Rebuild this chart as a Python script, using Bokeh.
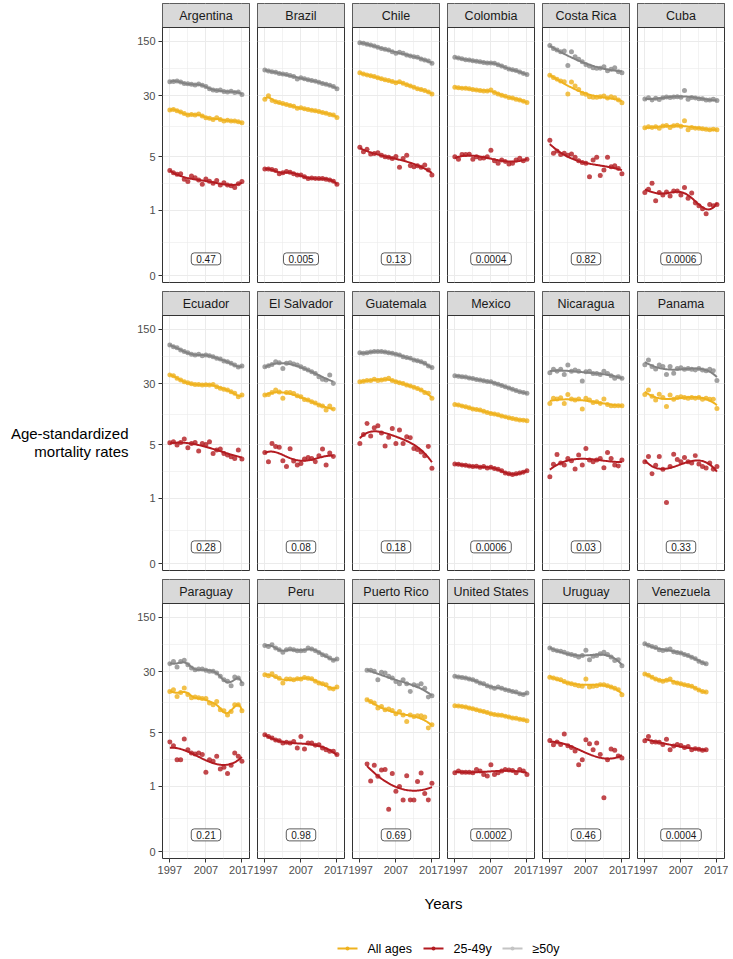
import numpy as np
from bokeh.plotting import figure
from bokeh.models import Range1d, FixedTicker, Span, Label
from bokeh.layouts import row, column
from bokeh.embed import file_html
from bokeh.resources import INLINE
from bokeh.core.properties import value

FONT = "Liberation Sans"

# ---------------- data ----------------
countries = ["Argentina", "Brazil", "Chile", "Colombia", "Costa Rica", "Cuba",
             "Ecuador", "El Salvador", "Guatemala", "Mexico", "Nicaragua", "Panama",
             "Paraguay", "Peru", "Puerto Rico", "United States", "Uruguay", "Venezuela"]
p_values = ["0.47", "0.005", "0.13", "0.0004", "0.82", "0.0006",
            "0.28", "0.08", "0.18", "0.0006", "0.03", "0.33",
            "0.21", "0.98", "0.69", "0.0002", "0.46", "0.0004"]
first_year = [1997, 1997, 1997, 1997, 1997, 1997,
              1997, 1997, 1997, 1997, 1997, 1997,
              1997, 1997, 1999, 1997, 1997, 1997]
series_names = ["All ages", "25-49y", "\u226550y"]
y_tick_values = [0, 1, 5, 30, 150]
x_tick_years = [1997, 2007, 2017]

arg_all = [19.7, 20.0, 19.3, 18.6, 17.8, 17.0, 17.3, 17.0, 17.5, 16.5, 15.7, 15.4, 14.9, 15.7, 14.9, 14.3, 14.6, 14.2, 14.3, 13.9, 13.5]
arg_young = [3.3, 3.1, 2.95, 3.0, 2.55, 2.38, 2.8, 2.67, 2.5, 2.2, 2.57, 2.4, 2.27, 2.45, 2.15, 2.3, 2.15, 2.1, 2.0, 2.24, 2.38]
arg_old = [45.4, 45.8, 46.3, 44.9, 43.2, 42.8, 42.0, 41.2, 42.4, 40.8, 39.3, 37.0, 35.6, 34.9, 35.6, 33.9, 33.5, 34.3, 32.9, 33.5, 31.2]

bra_all = [27, 30, 26, 25.2, 24.5, 23.8, 23.2, 22.5, 22, 20.8, 21, 20.5, 20, 19.5, 19.3, 18.8, 18.3, 17.9, 17.3, 17.0, 15.8]
bra_young = [3.45, 3.45, 3.4, 3.3, 3.0, 3.1, 3.2, 3.15, 3.0, 2.9, 2.9, 2.75, 2.6, 2.65, 2.6, 2.6, 2.6, 2.55, 2.5, 2.4, 2.2]
bra_old = [64, 62, 61, 60, 58, 57, 56, 54.5, 53, 49, 51, 49.5, 48, 47, 46, 44.5, 43, 42, 41, 39.5, 37]

chl_all = [59, 57, 55.5, 54, 53, 51, 49.5, 48, 47, 45.5, 44, 45.2, 43.5, 41.5, 40, 38.5, 37, 36, 35, 33.5, 31.5]
chl_young = [6.55, 5.76, 6.2, 5.37, 5.45, 5.6, 5.2, 4.97, 4.9, 4.73, 5.0, 3.63, 4.73, 5.2, 3.8, 3.7, 3.8, 3.63, 3.88, 3.35, 2.9]
chl_old = [143.4, 140.6, 136.5, 134, 130, 125, 121, 118, 115.5, 110, 104.7, 108, 104.7, 99.7, 96.7, 94.9, 93, 88.6, 86, 83.5, 78]

col_all = [38.5, 38, 37.5, 37.5, 37, 36, 35.5, 35, 34.5, 34.5, 35.5, 33, 31.5, 30.5, 29.5, 28.5, 28, 27, 26.5, 25.5, 24.5]
col_young = [4.95, 4.6, 5.3, 5.3, 5.35, 4.6, 4.95, 4.75, 4.8, 4.95, 6.0, 4.4, 4.1, 4.5, 4.3, 4.0, 4.1, 4.5, 4.75, 4.4, 4.6]
col_old = [93, 91, 89, 87, 86, 84, 83, 82, 80, 79, 79, 78, 75, 72, 69, 66, 64.5, 63, 60.5, 58, 56]

cri_all = [55, 51.5, 48.7, 46.3, 45.4, 31.5, 45, 40, 36.2, 32.2, 31.3, 29.2, 28.6, 28.6, 29.2, 29.7, 28, 29.2, 28.3, 26.4, 24.4]
cri_young = [8.1, 5.5, 5.9, 5.3, 5.5, 5.2, 5.4, 4.9, 4.4, 4.2, 4.1, 2.75, 4.5, 4.9, 2.85, 3.35, 4.9, 3.7, 3.8, 3.5, 3.0]
cri_old = [131.6, 121, 115.5, 110, 112, 73, 110, 95, 88, 82, 75.5, 72, 68.6, 67.3, 67.3, 70.7, 62.8, 65.6, 68.6, 61, 59.3]

cub_all = [11.7, 12, 11.8, 12, 11.5, 12.3, 12.5, 11.8, 12.4, 12.6, 12.2, 14.4, 11, 11.8, 11.5, 11.5, 11.3, 11.2, 11, 11.2, 11]
cub_young = [1.72, 1.9, 2.26, 1.34, 1.72, 1.6, 1.75, 1.55, 1.8, 1.8, 1.6, 2.0, 1.45, 1.7, 1.25, 1.15, 1.05, 0.9, 1.2, 1.15, 1.2]
cub_old = [27.3, 28.3, 26.4, 27.8, 26.9, 28.3, 29, 28.5, 29, 29.2, 28.8, 34.9, 27, 28.5, 28, 27.5, 27.5, 26.5, 26.5, 27, 26]

ecu_all = [38.8, 38, 35.2, 33.5, 31.8, 30.9, 30, 29.4, 29.4, 28.9, 29.2, 28.9, 29.4, 27.5, 26.2, 25.6, 24.9, 23.7, 22.6, 20.5, 21.5]
ecu_young = [5.27, 5.42, 4.92, 5.32, 5.87, 4.54, 5.16, 5.32, 4.12, 5.16, 5.0, 5.42, 3.84, 4.24, 4.37, 3.84, 3.66, 3.48, 3.31, 4.24, 3.25]
ecu_old = [94, 89.5, 86.6, 81, 77.6, 75, 71.5, 70, 71.5, 68.6, 70, 68.6, 66.6, 63.5, 62, 58.6, 57.5, 54.7, 52, 49, 50.8]

slv_all = [21.6, 21.9, 23.2, 24.9, 23.6, 19.5, 23.2, 23.2, 22.5, 21.1, 20.5, 18.9, 18.6, 17.7, 17.0, 16.0, 15.6, 13.8, 15.6, 14.2]
slv_young = [3.96, 3.0, 5.16, 4.7, 4.6, 3.1, 2.6, 4.4, 3.07, 2.73, 2.85, 3.25, 3.4, 3.3, 3.0, 3.6, 4.37, 2.73, 3.9, 3.5]
slv_old = [49.5, 51, 53, 57.5, 55.6, 47, 54.7, 55.6, 53.5, 52, 49.5, 47, 45, 42.8, 40.7, 37, 34.2, 33.5, 38.8, 30.3]

gtm_all = [31.8, 32.4, 33, 33, 34.2, 33, 33.5, 34.2, 35.2, 33, 31.8, 30.9, 30.3, 29, 28, 27, 26, 24.9, 23.2, 22.6, 19.5]
gtm_young = [5.16, 6.7, 9.3, 6.45, 8.2, 8.7, 7.0, 4.8, 6.2, 8.0, 5.16, 7.65, 5.16, 6.3, 6.1, 4.45, 4.3, 4.0, 3.6, 4.7, 2.47]
gtm_old = [75, 73.5, 75, 76.3, 77.6, 77.6, 77.6, 76.3, 75, 73.5, 71.5, 70, 66.6, 65, 63.5, 60.3, 58.9, 57.5, 54.7, 50.8, 48.3]

mex_all = [16.3, 16, 15.6, 15.2, 14.8, 14.3, 14, 13.8, 13.3, 12.9, 12.5, 12.3, 12, 11.6, 11.3, 11, 10.8, 10.5, 10.3, 10.2, 10.1]
mex_young = [2.8, 2.78, 2.72, 2.7, 2.65, 2.6, 2.62, 2.55, 2.6, 2.5, 2.55, 2.45, 2.4, 2.3, 2.15, 2.1, 2.05, 2.1, 2.15, 2.2, 2.3]
mex_old = [38, 37.5, 37, 36.5, 35.5, 35, 34, 33.4, 32.8, 32, 31.8, 30.5, 29.5, 28.5, 27.5, 26.5, 25.5, 24.5, 23.7, 23.2, 22.6]

nic_all = [16.8, 19.5, 19.1, 19.8, 16.8, 21.9, 19.1, 18.6, 19.1, 14.2, 19.5, 18.6, 17.3, 17.7, 16.8, 19.1, 16.3, 15.7, 15.7, 15.7, 15.7]
nic_young = [1.93, 2.78, 3.73, 2.9, 2.73, 3.31, 3.1, 2.42, 3.66, 2.73, 4.45, 3.16, 3.01, 3.16, 3.3, 2.52, 3.96, 3.3, 2.73, 2.65, 3.16]
nic_old = [41.5, 46, 43.5, 46, 39.5, 52, 43.5, 45, 43.5, 32.6, 42.8, 43.5, 40.7, 40.7, 39.5, 43.5, 40.7, 38, 35.2, 36.8, 35.2]

pan_all = [21.9, 24.9, 20.7, 18.6, 22, 20, 15.3, 21.5, 19, 20, 20.5, 20, 19.5, 20, 19.5, 20, 19, 19.5, 19, 19, 14.5]
pan_young = [3.0, 3.5, 2.1, 2.7, 3.5, 2.4, 0.88, 2.6, 3.75, 3.2, 3.0, 3.4, 3.0, 2.9, 3.6, 2.8, 2.6, 2.5, 2.9, 2.4, 2.6]
pan_old = [52.5, 60.3, 50, 46.5, 52, 50, 39.5, 50, 41, 47, 48, 46, 47, 46, 45, 47, 45, 44, 46, 44, 33]

pry_all = [16.8, 17.7, 14.5, 16.3, 18.6, 15.3, 13.9, 14.2, 13.9, 13.6, 13.6, 11.9, 11.3, 12.5, 9.8, 9.5, 8.4, 9.3, 11.3, 11.3, 9.5]
pry_young = [3.77, 3.39, 2.24, 2.24, 4.12, 3.01, 2.73, 2.65, 2.73, 2.6, 1.54, 2.24, 2.13, 2.47, 1.7, 1.79, 1.48, 1.9, 2.73, 2.47, 2.13]
pry_old = [38.1, 40.7, 34.5, 40.7, 42, 36.9, 33.5, 31.9, 32.5, 32.5, 31.3, 30.4, 30.4, 28.9, 26.2, 23.7, 22.6, 19.9, 25.7, 25, 21.1]

per_all = [27.5, 26.6, 28.3, 26, 24.7, 21.5, 24.2, 24.2, 23.7, 24.4, 24.2, 25.4, 24.7, 24.4, 22.6, 21.5, 21, 20.5, 18.5, 18.0, 19.1]
per_young = [4.68, 4.45, 4.24, 4.0, 3.92, 3.66, 3.75, 3.66, 3.84, 3.16, 4.45, 3.07, 3.66, 3.66, 3.42, 3.49, 3.16, 3.01, 2.87, 2.87, 2.6]
per_old = [65, 63, 66.5, 60.3, 57.5, 53.3, 57.5, 58.5, 57.5, 55.8, 55.8, 56, 60.3, 58.5, 55.8, 53, 49.5, 48, 45, 42, 43.7]

pri_all = [13.1, 12.5, 11.9, 10.3, 10.8, 9.8, 10, 9.6, 8.7, 9.3, 8.4, 6.9, 8.4, 8.0, 8.2, 8.2, 7.9, 5.7, 6.3]
pri_young = [1.96, 1.18, 1.9, 1.36, 1.64, 1.67, 0.48, 1.48, 0.86, 1.0, 0.65, 1.38, 0.65, 0.65, 1.16, 1.5, 0.8, 0.65, 1.1]
pri_old = [31.3, 31.3, 30.4, 23.7, 29.5, 29, 26.2, 25, 22.5, 21.1, 23.7, 21.1, 16.8, 20.5, 19.9, 21.1, 18.5, 14.2, 14.8]

usa_all = [11.0, 10.9, 10.8, 10.6, 10.3, 10.1, 9.8, 9.5, 9.3, 9.0, 8.7, 8.5, 8.4, 8.3, 8.1, 7.9, 7.7, 7.6, 7.4, 7.3, 7.1]
usa_young = [1.51, 1.59, 1.54, 1.54, 1.54, 1.51, 1.67, 1.59, 1.44, 1.37, 1.93, 1.44, 1.51, 1.59, 1.67, 1.65, 1.62, 1.51, 1.67, 1.59, 1.44]
usa_old = [26.2, 25.7, 25.4, 25, 24.2, 23.7, 22.6, 21.5, 21.1, 19.9, 19.1, 18.5, 19.1, 18.5, 17.7, 17.3, 16.8, 16.5, 15.7, 15.3, 16]

ury_all = [25.6, 24.9, 24.2, 23.7, 22.5, 21.5, 21.1, 20.5, 19.9, 19.5, 24.2, 19.1, 19.5, 19.9, 20.5, 20.5, 19.9, 19.1, 18.5, 17.6, 15.2]
ury_young = [3.96, 3.48, 3.77, 3.5, 4.77, 3.38, 3.2, 2.9, 1.93, 2.24, 4.04, 3.59, 3.0, 3.66, 2.6, 0.70, 2.24, 3.07, 2.95, 2.5, 2.35]
ury_old = [60.3, 57.5, 55.8, 54.7, 53.3, 51.1, 49.7, 48.3, 46.4, 48.3, 56.6, 42.6, 47.3, 48.3, 51.1, 53.3, 49.7, 46.4, 41.9, 42.6, 35.9]

ven_all = [28, 27, 25.5, 24.2, 23.3, 22.7, 23.3, 24.2, 22, 21.5, 21, 20.5, 20, 19.5, 18.5, 17.5, 16.8, 16.5]
ven_young = [3.92, 4.45, 3.77, 3.77, 3.74, 3.5, 4.1, 3.0, 3.35, 3.5, 3.4, 3.2, 3.3, 3.0, 3.1, 3.05, 2.95, 3.0]
ven_old = [68.5, 65.5, 63, 61.5, 57.5, 56, 57.5, 58.5, 54, 53, 52, 50, 48.5, 46, 44, 41, 39, 38]

country_series = [
    (arg_all, arg_young, arg_old), (bra_all, bra_young, bra_old), (chl_all, chl_young, chl_old),
    (col_all, col_young, col_old), (cri_all, cri_young, cri_old), (cub_all, cub_young, cub_old),
    (ecu_all, ecu_young, ecu_old), (slv_all, slv_young, slv_old), (gtm_all, gtm_young, gtm_old),
    (mex_all, mex_young, mex_old), (nic_all, nic_young, nic_old), (pan_all, pan_young, pan_old),
    (pry_all, pry_young, pry_old), (per_all, per_young, per_old), (pri_all, pri_young, pri_old),
    (usa_all, usa_young, usa_old), (ury_all, ury_young, ury_old), (ven_all, ven_young, ven_old),
]

# ---------------- style ----------------
LINE_COLORS = ["#EFB21E", "#B31B21", "#828282"]
POINT_COLORS = ["#EFB21E", "#B31B21", "#8A8A8A"]
LEGEND_COLORS = ["#EFB21E", "#B31B21", "#C4C4C4"]
SIGMA = 0.15


def tr(v):
    """pseudo-log transform used by the y scale"""
    return np.arcsinh(np.asarray(v, dtype=float) / (2 * SIGMA))


KNOTS = np.linspace(0, 1, 10)[1:-1]


def smooth_fit(xv, yv, n_out=80, gamma=1.0):
    """penalised cubic regression spline, smoothing chosen by GCV"""
    x = np.asarray(xv, float)
    y = np.asarray(yv, float)
    lo, hi = x.min(), x.max()

    def basis(t):
        u = (np.asarray(t, float) - lo) / (hi - lo)
        cols = [np.ones_like(u), u, u ** 2, u ** 3] + [np.clip(u - k, 0, None) ** 3 for k in KNOTS]
        return np.column_stack(cols)

    X = basis(x)
    n = len(y)
    D = np.diag([0.0] * 4 + [1.0] * len(KNOTS))
    best = None
    for lam in np.logspace(-7, 2, 91):
        A = X.T @ X + lam * D
        H = X @ np.linalg.solve(A, X.T)
        res = y - H @ y
        edf = np.trace(H)
        den = n - gamma * edf
        if den <= 0:
            continue
        g = n * float(res @ res) / den ** 2
        if best is None or g < best[0]:
            best = (g, lam)
    lam = best[1]
    beta = np.linalg.solve(X.T @ X + lam * D, X.T @ y)
    xs = np.linspace(lo, hi, n_out)
    return xs, basis(xs) @ beta


X_LO, X_HI = 1994.96, 2019.1
Y_LO, Y_PTOP = -0.206, 7.31
FRAME_W, PANEL_H, STRIP_H = 87, 255, 24
PPU = PANEL_H / (Y_PTOP - Y_LO)
Y_HI = Y_PTOP + STRIP_H / PPU
X_MID = (X_LO + X_HI) / 2

y_major = [float(v) for v in tr(y_tick_values)]
y_minor = [(a + b) / 2 for a, b in zip(y_major[:-1], y_major[1:])]
x_minor = [(a + b) / 2 for a, b in zip(x_tick_years[:-1], x_tick_years[1:])]

GRID = "#EBEBEB"
DARK = "#333333"
TICK_TXT = "#4D4D4D"


def make_panel(i):
    r, c = divmod(i, 6)
    p = figure(frame_width=FRAME_W, frame_height=PANEL_H + STRIP_H,
               x_range=Range1d(X_LO, X_HI), y_range=Range1d(Y_LO, Y_HI),
               toolbar_location=None, output_backend="svg",
               min_border_left=30 if c == 0 else 4, min_border_right=4,
               min_border_top=3 if r == 0 else 0, min_border_bottom=20 if r == 2 else 9)
    p.background_fill_color = "white"
    p.border_fill_color = "white"
    p.outline_line_color = DARK
    p.outline_line_width = 1

    xt = FixedTicker(ticks=x_tick_years, minor_ticks=x_minor)
    yt = FixedTicker(ticks=y_major, minor_ticks=y_minor)
    p.xaxis.ticker = xt
    p.yaxis.ticker = yt
    p.xgrid.ticker = xt
    p.ygrid.ticker = yt
    for g in (p.xgrid, p.ygrid):
        g.grid_line_color = GRID
        g.grid_line_width = 1
        g.minor_grid_line_color = GRID
        g.minor_grid_line_width = 0.6

    for ax in (p.xaxis, p.yaxis):
        ax.axis_line_color = None
        ax.minor_tick_line_color = None
        ax.major_tick_line_color = DARK
        ax.major_tick_in = 0
        ax.major_tick_out = 4
        ax.major_label_standoff = 3
        ax.major_label_text_font = FONT
        ax.major_label_text_font_size = "11px"
        ax.major_label_text_color = TICK_TXT
    p.yaxis.major_label_overrides = {y: str(v) for y, v in zip(y_major, y_tick_values)}
    p.xaxis.major_label_overrides = {yr: str(yr) for yr in x_tick_years}
    p.xaxis.visible = (r == 2)
    p.yaxis.visible = (c == 0)

    # strip
    p.quad(left=[X_LO], right=[X_HI], bottom=[Y_PTOP], top=[Y_HI],
           fill_color="#D9D9D9", line_color=None)
    p.add_layout(Span(location=Y_PTOP, dimension="width", line_color=DARK, line_width=1))
    p.text(x=[X_MID], y=[Y_PTOP + (Y_HI - Y_PTOP) / 2], text=[countries[i]],
           text_align="center", text_baseline="middle",
           text_font=value(FONT), text_font_size="12.5px", text_color="#1A1A1A")

    fy = first_year[i]
    vals = country_series[i]
    for k in range(3):
        yrs = list(range(fy, fy + len(vals[k])))
        p.scatter(yrs, tr(vals[k]), size=5, color=POINT_COLORS[k], alpha=0.8, line_color=None)
    for k in range(3):
        yrs = list(range(fy, fy + len(vals[k])))
        xs, ys = smooth_fit(yrs, tr(vals[k]))
        p.line(xs, ys, line_color=LINE_COLORS[k], line_width=2)

    p.add_layout(Label(x=X_MID, y=0.49, text=p_values[i], text_align="center",
                       text_baseline="middle", text_font=FONT, text_font_size="10px",
                       text_color="#1A1A1A", background_fill_color="white",
                       border_line_color=DARK, border_line_width=0.8,
                       padding=dict(left=5, right=5, top=2, bottom=2), border_radius=3))
    return p


panels = [make_panel(i) for i in range(18)]
grid = column(row(*panels[0:6]), row(*panels[6:12]), row(*panels[12:18]))

TITLE_W, TITLE_H = 132, 858
tf = figure(width=TITLE_W, height=TITLE_H, x_range=Range1d(0, TITLE_W), y_range=Range1d(TITLE_H, 0),
            toolbar_location=None, output_backend="svg", min_border=0)
tf.axis.visible = False
tf.grid.visible = False
tf.outline_line_color = None
tf.text(x=[128, 128], y=[433, 451], text=["Age-standardized", "mortality rates"],
        text_align="right", text_baseline="alphabetic",
        text_font=value(FONT), text_font_size="15px", text_color="black")

BOT_W, BOT_H = 733, 80
bf = figure(width=BOT_W, height=BOT_H, x_range=Range1d(0, BOT_W), y_range=Range1d(BOT_H, 0),
            toolbar_location=None, output_backend="svg", min_border=0)
bf.axis.visible = False
bf.grid.visible = False
bf.outline_line_color = None
bf.text(x=[443], y=[25], text=["Years"], text_align="center", text_baseline="middle",
        text_font=value(FONT), text_font_size="15px", text_color="black")
key_x = [337, 423, 502]
for k in range(3):
    bf.line([key_x[k], key_x[k] + 20], [70, 70], line_color=LEGEND_COLORS[k], line_width=2)
    bf.scatter([key_x[k] + 10], [70], size=4, color=LEGEND_COLORS[k], line_color=None)
bf.text(x=[kx + 30 for kx in key_x], y=[70, 70, 70], text=series_names,
        text_align="left", text_baseline="middle",
        text_font=value(FONT), text_font_size="12.5px", text_color="black")

layout = column(row(tf, grid), bf)
open("out.html", "w").write(file_html(layout, INLINE))
